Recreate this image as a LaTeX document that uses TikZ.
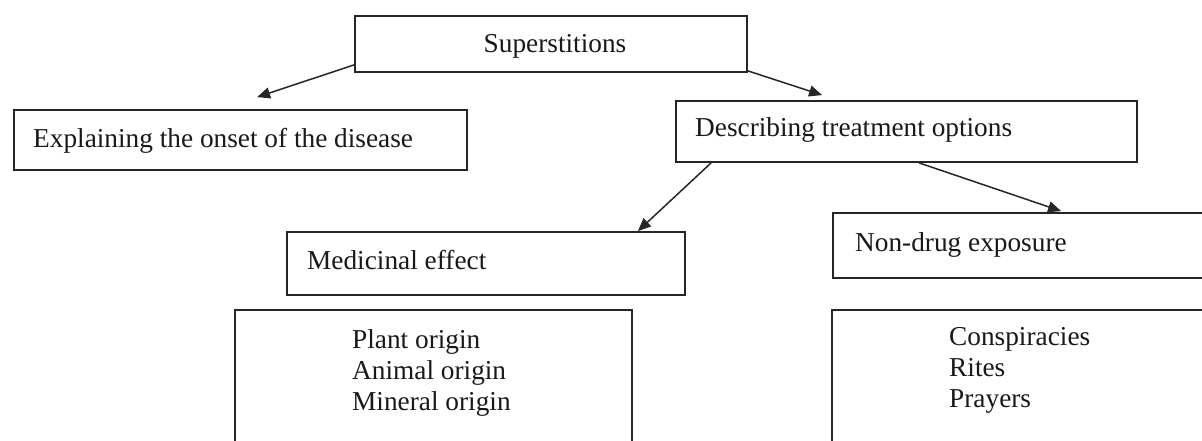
\documentclass[tikz,border=0pt]{standalone}
\usepackage{fontspec}
\setmainfont{Liberation Serif}
\usetikzlibrary{arrows.meta}
\begin{document}
\begin{tikzpicture}[x=1pt,y=-1pt,
  box/.style={draw=black!85,line width=1.8pt,rectangle,inner sep=0pt},
  lbl/.style={inner sep=0pt,font=\fontsize{27.3}{31}\selectfont,text=black!90},
  arr/.style={draw=black!85,line width=1.5pt,-{Triangle[length=13pt,width=11pt]}}]
\useasboundingbox (0,0) rectangle (1202,441);
\fill[white] (0,0) rectangle (1202,441);
\clip (0,0) rectangle (1202,441);
% boxes
\node[box,minimum width=392pt,minimum height=56pt] (sup) at (551,44) {};
\node[box,minimum width=453pt,minimum height=60pt] (expl) at (240.5,140) {};
\node[box,minimum width=461pt,minimum height=61pt] (desc) at (906.5,131.5) {};
\node[box,minimum width=398pt,minimum height=63pt] (med) at (486,263.5) {};
\node[box,minimum width=427pt,minimum height=65pt] (nond) at (1046.5,245.5) {};
\node[box,minimum width=397pt,minimum height=160pt] (plant) at (433.5,390) {};
\node[box,minimum width=428pt,minimum height=160pt] (consp) at (1046,390) {};
% labels
\node[lbl,anchor=base] (tsup) at (555,53) {Superstitions};
\node[lbl,anchor=base west] (texpl) at (33,147) {Explaining the onset of the disease};
\node[lbl,anchor=base west] (tdesc) at (695,137) {Describing treatment options};
\node[lbl,anchor=base west] (tmed) at (307,269) {Medicinal effect};
\node[lbl,anchor=base west] (tnond) at (855,251) {Non-drug exposure};
\node[lbl,anchor=base west,align=left] (tplant) at (352,410) {Plant origin\\Animal origin\\Mineral origin};
\node[lbl,anchor=base west,align=left] (tconsp) at (949,407) {Conspiracies\\Rites\\Prayers};
% connectors
\draw[arr] ([yshift=8pt]sup.south west) -- ([xshift=244pt,yshift=12pt]expl.north west);
\draw[arr] ([yshift=2pt]sup.south east) -- ([xshift=147pt,yshift=5pt]desc.north west);
\draw[arr] ([xshift=36pt]desc.south west) -- ([xshift=-48pt]med.north east);
\draw[arr] ([xshift=244pt]desc.south west) -- ([xshift=229pt,yshift=1pt]nond.north west);
\end{tikzpicture}
\end{document}
